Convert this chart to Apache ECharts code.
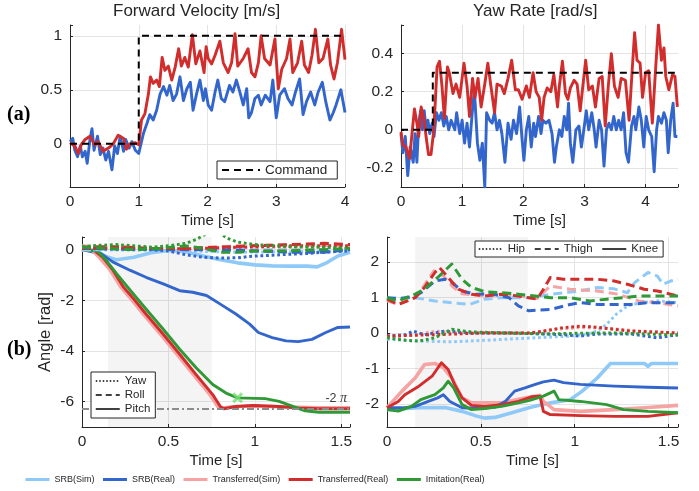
<!DOCTYPE html>
<html>
<head>
<meta charset="utf-8">
<script src="https://cdn.jsdelivr.net/npm/echarts@6/dist/echarts.min.js"></script>
<style>html,body{margin:0;padding:0;background:#fff}#c{width:699px;height:491px}</style>
</head>
<body>
<div id="c"></div>
<script>
// ---------- DATA ----------
const seriesNames = ['SRB(Sim)', 'SRB(Real)', 'Transferred(Sim)', 'Transferred(Real)', 'Imitation(Real)'];
const jointLegend = ['Hip', 'Thigh', 'Knee'];
const bodyLegend = ['Yaw', 'Roll', 'Pitch'];

// (a) Forward velocity [m/s]
const velCommand = [[0,0],[1,0],[1,1],[4,1]];
const velSRBReal = [[0,0.02],[0.04,0.05],[0.07,-0.06],[0.11,-0.12],[0.15,-0.02],[0.18,-0.12],[0.22,-0.07],[0.25,-0.18],[0.29,0.04],[0.32,0.14],[0.35,-0.06],[0.40,0.07],[0.44,-0.10],[0.48,-0.04],[0.52,-0.15],[0.56,-0.07],[0.61,-0.24],[0.65,-0.02],[0.69,-0.09],[0.73,0.07],[0.78,-0.07],[0.81,0.04],[0.86,-0.04],[0.90,0.02],[0.95,-0.06],[1.0,-0.09],[1.07,0.10],[1.12,0.19],[1.16,0.27],[1.21,0.22],[1.26,0.31],[1.31,0.46],[1.36,0.53],[1.41,0.45],[1.45,0.54],[1.50,0.40],[1.55,0.46],[1.60,0.62],[1.65,0.40],[1.70,0.51],[1.75,0.57],[1.79,0.31],[1.84,0.46],[1.89,0.59],[1.94,0.40],[1.97,0.51],[2.01,0.36],[2.06,0.31],[2.11,0.48],[2.15,0.59],[2.20,0.42],[2.25,0.39],[2.32,0.54],[2.37,0.48],[2.42,0.59],[2.47,0.48],[2.52,0.36],[2.57,0.51],[2.60,0.24],[2.64,0.29],[2.69,0.42],[2.74,0.45],[2.78,0.36],[2.84,0.45],[2.91,0.39],[2.95,0.59],[3.0,0.24],[3.05,0.45],[3.12,0.51],[3.17,0.42],[3.23,0.36],[3.28,0.48],[3.34,0.60],[3.39,0.27],[3.44,0.39],[3.50,0.48],[3.56,0.36],[3.61,0.48],[3.67,0.57],[3.72,0.39],[3.78,0.22],[3.83,0.29],[3.87,0.36],[3.94,0.50],[4.0,0.29]];
const velTransReal = [[0,0.01],[0.07,-0.02],[0.12,-0.09],[0.17,0],[0.22,0.04],[0.29,0.07],[0.36,-0.01],[0.41,0.02],[0.48,-0.07],[0.56,-0.04],[0.63,0.0],[0.70,0.08],[0.78,0.05],[0.82,-0.05],[0.87,0.0],[0.95,0.01],[1.0,-0.01],[1.04,0.22],[1.09,0.28],[1.14,0.46],[1.17,0.62],[1.21,0.56],[1.26,0.59],[1.30,0.53],[1.34,0.80],[1.38,0.68],[1.43,0.72],[1.48,0.59],[1.53,0.71],[1.58,0.88],[1.62,0.72],[1.67,0.80],[1.72,0.71],[1.78,1.01],[1.83,0.74],[1.89,0.86],[1.95,0.66],[1.98,0.90],[2.01,0.79],[2.06,0.74],[2.11,0.82],[2.18,0.95],[2.23,0.75],[2.30,0.66],[2.35,0.75],[2.40,1.02],[2.44,0.72],[2.52,0.79],[2.59,0.88],[2.64,0.66],[2.69,0.62],[2.74,0.75],[2.78,1.0],[2.83,0.79],[2.91,0.73],[2.98,0.97],[3.03,0.51],[3.08,0.69],[3.15,0.79],[3.20,0.97],[3.24,0.66],[3.31,0.75],[3.37,0.95],[3.41,0.73],[3.47,0.66],[3.52,0.82],[3.57,1.06],[3.62,0.75],[3.68,0.79],[3.75,0.97],[3.79,0.73],[3.84,0.60],[3.89,0.75],[3.95,1.06],[4.0,0.78]];

// (a) Yaw rate [rad/s]
const yawCommand = [[0,0],[0.52,0],[0.52,0.3],[4.52,0.3]];
const yawSRBReal = [[0,-0.02],[0.03,-0.12],[0.07,-0.035],[0.11,-0.24],[0.15,-0.09],[0.20,-0.17],[0.23,-0.02],[0.26,-0.17],[0.29,0.035],[0.32,0.10],[0.35,0],[0.38,0.10],[0.41,0],[0.44,0.05],[0.47,-0.02],[0.51,0.035],[0.54,-0.035],[0.58,0.09],[0.62,0.05],[0.66,0.09],[0.70,0.02],[0.74,0.07],[0.78,0],[0.82,0.05],[0.88,0],[0.91,0.09],[0.96,-0.02],[1.00,0.05],[1.04,-0.07],[1.08,0.035],[1.12,-0.09],[1.16,0.07],[1.20,0.21],[1.25,-0.07],[1.29,-0.16],[1.33,-0.07],[1.37,-0.30],[1.40,0.09],[1.45,0.05],[1.49,0.035],[1.53,0.09],[1.57,0],[1.61,0.05],[1.65,-0.02],[1.70,-0.17],[1.75,0.035],[1.80,-0.05],[1.84,0.05],[1.89,-0.02],[1.94,0.12],[1.98,-0.05],[2.01,-0.16],[2.05,0],[2.09,0.07],[2.13,-0.09],[2.17,0.035],[2.20,-0.035],[2.25,0.07],[2.29,-0.02],[2.32,0.05],[2.37,0.035],[2.42,0.05],[2.47,-0.02],[2.51,-0.17],[2.54,-0.09],[2.59,0],[2.63,-0.035],[2.67,0.07],[2.71,0],[2.74,0.14],[2.77,-0.07],[2.81,-0.17],[2.86,0],[2.91,0.02],[2.95,-0.09],[2.99,0],[3.03,0.10],[3.07,0],[3.12,0.09],[3.16,0],[3.19,-0.09],[3.24,0.05],[3.28,0],[3.32,-0.19],[3.36,0],[3.40,0.035],[3.44,0],[3.48,0.07],[3.52,0],[3.56,0.05],[3.60,0],[3.64,0.09],[3.68,-0.12],[3.72,-0.17],[3.77,0.02],[3.81,0.07],[3.84,0],[3.89,0.12],[3.93,0.05],[3.97,-0.09],[4.01,0.07],[4.05,0],[4.10,-0.035],[4.14,-0.22],[4.18,0],[4.21,0.07],[4.26,0.035],[4.30,0.09],[4.34,0.05],[4.37,-0.12],[4.41,0.05],[4.45,0.14],[4.48,-0.035],[4.52,-0.035]];
const yawTransReal = [[0,-0.01],[0.03,-0.08],[0.08,-0.09],[0.14,-0.15],[0.18,-0.02],[0.22,0.11],[0.26,0.035],[0.29,-0.035],[0.33,0.12],[0.38,0.05],[0.41,-0.035],[0.45,-0.13],[0.49,-0.13],[0.53,-0.02],[0.56,0.14],[0.59,0.33],[0.63,0.36],[0.67,0.23],[0.71,0.06],[0.76,0.33],[0.79,0.30],[0.85,0.19],[0.90,0.24],[0.96,0.17],[1.03,0.35],[1.08,0.23],[1.12,0.07],[1.17,0.27],[1.21,0.17],[1.26,0.27],[1.31,0.12],[1.37,0.24],[1.42,0.35],[1.47,0.23],[1.53,0.09],[1.57,0.24],[1.64,0.23],[1.69,0.19],[1.75,0.27],[1.81,0.365],[1.87,0.21],[1.92,0.21],[1.98,0.16],[2.05,0.23],[2.10,0.17],[2.16,0.30],[2.21,0.20],[2.26,0.17],[2.30,0.05],[2.34,0.17],[2.39,0.22],[2.45,0.2],[2.50,0.29],[2.56,0.12],[2.59,0.23],[2.64,0.36],[2.69,0.19],[2.73,0.16],[2.77,0.22],[2.83,0.26],[2.88,0.24],[2.93,0.10],[3.02,0.365],[3.07,0.21],[3.13,0.23],[3.18,0.12],[3.24,0.27],[3.29,0.28],[3.34,0.02],[3.39,0.23],[3.44,0.40],[3.49,0.23],[3.55,0.17],[3.60,0.27],[3.67,0.26],[3.73,0.05],[3.78,0.31],[3.82,0.51],[3.86,0.365],[3.91,0.35],[3.95,0.17],[4.0,0.30],[4.05,0.31],[4.11,0.035],[4.16,0.30],[4.21,0.55],[4.26,0.365],[4.30,0.43],[4.33,0.28],[4.38,0.21],[4.44,0.29],[4.48,0.28],[4.52,0.12]];

// (b) Body angles [rad]
const pitchSRBSim = [[0,0],[0.08,-0.05],[0.15,-0.3],[0.2,-0.4],[0.3,-0.3],[0.4,-0.12],[0.5,-0.03],[0.6,-0.08],[0.7,-0.25],[0.8,-0.4],[0.9,-0.52],[1.0,-0.6],[1.1,-0.64],[1.2,-0.65],[1.3,-0.65],[1.36,-0.68],[1.42,-0.5],[1.48,-0.25],[1.55,-0.1]];
const pitchSRBReal = [[0,0],[0.11,-0.16],[0.18,-0.49],[0.28,-0.82],[0.37,-1.09],[0.47,-1.35],[0.565,-1.62],[0.64,-1.68],[0.72,-1.81],[0.80,-2.15],[0.89,-2.54],[0.97,-2.94],[1.02,-3.27],[1.10,-3.47],[1.18,-3.6],[1.25,-3.63],[1.33,-3.54],[1.41,-3.27],[1.48,-3.07],[1.55,-3.05]];
const pitchTransSim = [[0,0],[0.06,-0.02],[0.1,-0.3],[0.165,-0.82],[0.225,-1.48],[0.285,-1.95],[0.355,-2.54],[0.455,-3.34],[0.55,-4.13],[0.645,-4.93],[0.74,-5.72],[0.785,-6.19],[0.805,-6.26],[0.87,-6.2],[0.99,-6.17],[1.14,-6.2],[1.25,-6.22],[1.37,-6.24],[1.55,-6.24]];
const pitchTransReal = [[0,0],[0.07,-0.03],[0.12,-0.3],[0.18,-0.82],[0.24,-1.48],[0.30,-1.95],[0.37,-2.54],[0.47,-3.34],[0.565,-4.13],[0.66,-4.93],[0.756,-5.72],[0.80,-6.19],[0.82,-6.28],[0.89,-6.19],[0.99,-6.15],[1.14,-6.19],[1.25,-6.25],[1.37,-6.28],[1.55,-6.28]];
const pitchImitReal = [[0,0],[0.09,-0.05],[0.14,-0.42],[0.2,-0.95],[0.28,-1.61],[0.37,-2.34],[0.47,-3.14],[0.565,-3.93],[0.66,-4.66],[0.756,-5.32],[0.833,-5.66],[0.90,-5.85],[0.95,-5.86],[1.06,-5.88],[1.14,-5.99],[1.22,-6.19],[1.29,-6.36],[1.37,-6.42],[1.55,-6.42]];
const yawSRBSim = [[0,0],[0.3,-0.02],[0.6,-0.05],[0.9,-0.1],[1.2,-0.08],[1.55,-0.05]];
const yawSRBRealB = [[0,0.05],[0.2,0.02],[0.4,0],[0.5,-0.05],[0.6,-0.2],[0.7,-0.3],[0.8,-0.33],[0.9,-0.32],[1.0,-0.25],[1.1,-0.22],[1.2,-0.18],[1.3,-0.15],[1.4,-0.1],[1.55,-0.05]];
const yawTransSimB = [[0,0.08],[0.3,0.05],[0.6,0.02],[0.9,0.08],[1.2,0.1],[1.55,0.08]];
const yawTransRealB = [[0,0.05],[0.3,0.08],[0.6,0.03],[0.9,0.1],[1.2,0.15],[1.55,0.15]];
const yawImitRealB = [[0,0.12],[0.1,0.17],[0.2,0.2],[0.3,0.15],[0.4,0.1],[0.5,0.15],[0.6,0.25],[0.66,0.4],[0.7,0.55],[0.75,0.75],[0.8,0.65],[0.84,0.45],[0.9,0.3],[1.0,0.2],[1.2,0.12],[1.4,0.1],[1.55,0.05]];
const rollSRBSim = [[0,0],[0.5,0.01],[1.0,0],[1.55,0]];
const rollSRBReal = [[0,0.05],[0.2,0.05],[0.4,0.02],[0.6,0.0],[0.8,0.0],[1.0,-0.05],[1.2,-0.1],[1.4,-0.1],[1.55,0]];
const rollTransSim = [[0,0.15],[0.3,0.05],[0.6,0.05],[0.9,0.15],[1.2,0.2],[1.55,0.15]];
const rollTransReal = [[0,0.1],[0.2,0.12],[0.4,0.05],[0.6,0.05],[0.8,0.1],[1.0,0.15],[1.2,0.2],[1.4,0.25],[1.55,0.2]];
const rollImitReal = [[0,0.1],[0.15,0.05],[0.3,0],[0.45,0.05],[0.6,0.15],[0.7,0.05],[0.8,-0.1],[0.9,-0.1],[1.0,-0.05],[1.2,-0.05],[1.4,0],[1.55,0.05]];
const flipX = [[0.9, -5.85]];
const twoPi = -2 * Math.PI;

// (b) Joint angles [rad]
const kneeSRBSim = [[0,-2.16],[0.17,-2.11],[0.31,-2.1],[0.4,-2.21],[0.47,-2.33],[0.52,-2.4],[0.575,-2.38],[0.665,-2.25],[0.76,-2.1],[0.87,-1.97],[0.976,-1.88],[1.04,-1.64],[1.12,-1.27],[1.19,-0.86],[1.37,-0.86],[1.39,-0.94],[1.41,-0.86],[1.55,-0.86]];
const kneeSRBReal = [[0,-2.11],[0.08,-2.11],[0.15,-2.07],[0.22,-1.93],[0.27,-1.83],[0.3,-1.74],[0.335,-1.93],[0.4,-2.11],[0.49,-2.13],[0.575,-2.09],[0.63,-1.93],[0.68,-1.64],[0.735,-1.55],[0.79,-1.45],[0.833,-1.38],[0.89,-1.33],[0.94,-1.4],[1.03,-1.45],[1.21,-1.5],[1.39,-1.53],[1.55,-1.55]];
const kneeTransSim = [[0,-2.11],[0.08,-1.64],[0.15,-1.27],[0.2,-0.89],[0.255,-0.86],[0.3,-0.98],[0.345,-1.27],[0.4,-1.83],[0.45,-1.97],[0.61,-1.97],[0.74,-1.83],[0.815,-1.76],[0.833,-1.93],[0.89,-2.16],[1.03,-2.21],[1.21,-2.16],[1.39,-2.1],[1.55,-2.04]];
const kneeTransReal = [[0,-2.11],[0.06,-1.93],[0.095,-1.74],[0.17,-1.5],[0.24,-1.22],[0.29,-0.84],[0.326,-1.03],[0.36,-1.45],[0.4,-1.83],[0.45,-2.04],[0.52,-2.07],[0.61,-2.02],[0.7,-1.93],[0.77,-1.8],[0.815,-1.78],[0.833,-2.21],[0.87,-2.3],[1.03,-2.33],[1.21,-2.35],[1.39,-2.35],[1.55,-2.25]];
const kneeImitReal = [[0,-2.16],[0.06,-2.2],[0.13,-2.07],[0.18,-1.88],[0.255,-1.74],[0.3,-1.55],[0.326,-1.36],[0.355,-1.55],[0.4,-2.02],[0.45,-2.16],[0.52,-2.13],[0.61,-2.07],[0.7,-1.97],[0.76,-1.9],[0.833,-1.78],[0.89,-1.64],[0.915,-1.88],[1.03,-1.93],[1.17,-2.02],[1.26,-2.16],[1.39,-2.21],[1.55,-2.25]];
const thighSRBSim = [[0,0.99],[0.15,0.99],[0.255,0.9],[0.345,0.85],[0.44,0.8],[0.52,0.95],[0.61,0.99],[0.76,0.99],[0.84,1.06],[0.94,1.13],[1.03,1.18],[1.12,1.28],[1.21,1.24],[1.28,1.13],[1.32,1.42],[1.39,1.7],[1.44,1.6],[1.47,1.37],[1.51,1.46],[1.55,1.51]];
const thighSRBReal = [[0,0.99],[0.06,0.95],[0.15,1.04],[0.18,1.13],[0.255,1.46],[0.31,1.51],[0.345,1.42],[0.4,1.18],[0.47,1.09],[0.56,1.1],[0.65,0.99],[0.7,0.76],[0.755,0.62],[0.8,0.64],[0.87,0.66],[0.976,0.8],[1.03,0.85],[1.12,0.8],[1.3,0.8],[1.39,0.85],[1.55,0.85]];
const thighTransSim = [[0,0.9],[0.06,0.8],[0.15,0.99],[0.2,1.35],[0.25,1.75],[0.3,1.6],[0.35,1.3],[0.4,1.1],[0.5,1.05],[0.6,1.08],[0.7,1.04],[0.8,0.97],[0.87,1.32],[0.976,1.23],[1.12,1.18],[1.23,1.09],[1.34,0.9],[1.44,0.85],[1.55,0.76]];
const thighTransReal = [[0,0.95],[0.06,0.8],[0.15,0.99],[0.2,1.28],[0.255,1.7],[0.28,1.84],[0.326,1.56],[0.38,1.23],[0.45,1.09],[0.52,1.04],[0.61,1.09],[0.7,1.04],[0.755,0.99],[0.8,0.95],[0.83,1.2],[0.87,1.56],[0.94,1.51],[1.03,1.51],[1.12,1.51],[1.21,1.46],[1.28,1.37],[1.37,1.23],[1.44,1.18],[1.55,1.04]];
const thighImitReal = [[0,0.99],[0.06,0.9],[0.15,1.09],[0.2,1.23],[0.27,1.56],[0.345,1.94],[0.4,1.51],[0.45,1.28],[0.52,1.16],[0.61,1.13],[0.7,1.09],[0.79,1.04],[0.87,0.99],[0.976,0.99],[1.08,0.9],[1.17,0.95],[1.26,0.99],[1.35,1.04],[1.44,1.04],[1.55,1.04]];
const hipSRBSim = [[0,-0.18],[0.17,-0.23],[0.345,-0.25],[0.52,-0.21],[0.7,-0.16],[0.79,-0.14],[0.976,-0.09],[1.06,-0.04],[1.12,0.05],[1.17,0.24],[1.22,0.52],[1.28,0.76],[1.35,0.85],[1.44,0.9],[1.55,0.85]];
const hipSRBReal = [[0,-0.09],[0.1,-0.05],[0.14,0.05],[0.2,-0.05],[0.31,0.05],[0.45,0],[0.61,0],[0.79,-0.02],[0.94,-0.05],[1.03,-0.09],[1.12,-0.03],[1.3,-0.03],[1.44,-0.14],[1.55,-0.05]];
const hipTransSim = [[0,-0.12],[0.15,-0.05],[0.26,0.05],[0.4,0],[0.6,0],[0.8,0.0],[0.9,0.1],[1.03,0.15],[1.2,0.12],[1.35,0.05],[1.55,-0.02]];
const hipTransReal = [[0,-0.09],[0.26,-0.05],[0.52,0],[0.76,0],[0.833,0.05],[0.94,0.15],[1.03,0.19],[1.12,0.16],[1.21,0.1],[1.3,0.05],[1.55,0]];
const hipImitReal = [[0,-0.14],[0.1,-0.21],[0.17,-0.23],[0.255,-0.14],[0.345,0.1],[0.44,0.03],[0.61,0],[0.84,-0.03],[1.03,-0.01],[1.21,0],[1.55,-0.06]];
const shadeRange = [0.15, 0.75];

// ---------- STYLE ----------
const COL = {'SRB(Sim)':'#8fc9f7','SRB(Real)':'#3366cc','Transferred(Sim)':'#f5a3a3','Transferred(Real)':'#d12d2d','Imitation(Real)':'#2f9a35'};
const SIMW = 3.6, REALW = 2.9;
const DASH = [9, 5], DOT = [2.8, 2.8];
const FONT = 'Liberation Sans, Arial, Helvetica, sans-serif';
const TXT = '#262626';

function ln(name, data, g, width, dash, extra) {
  const color = COL[name] || '#000';
  return Object.assign({
    type: 'line', name: name, data: data, xAxisIndex: g, yAxisIndex: g,
    symbol: 'none', showSymbol: false, animation: false, clip: true,
    lineStyle: {color: color, width: width, type: dash || 'solid', cap: 'butt', join: 'round'},
    itemStyle: {color: color}, emphasis: {disabled: true}
  }, extra || {});
}
const fmt = step => v => (Math.abs(v / step - Math.round(v / step)) < 1e-6 ? String(+v.toFixed(2)) : '');

function xAx(g, max, step, showMax) {
  return {
    type: 'value', gridIndex: g, min: 0, max: max, interval: step,
    name: 'Time [s]', nameLocation: 'middle', nameGap: 26,
    nameTextStyle: {fontSize: 15, color: TXT, fontFamily: FONT},
    axisLine: {onZero: false, lineStyle: {color: TXT, width: 1}},
    axisTick: {inside: true, length: 3, lineStyle: {color: TXT}},
    axisLabel: {fontSize: 15.5, color: TXT, fontFamily: FONT, margin: 7, formatter: fmt(step)},
    splitLine: {show: true, lineStyle: {color: '#e4e4e4', width: 1}, showMinLine: false, showMaxLine: showMax}
  };
}
function yAx(g, min, max, step, split, name) {
  return {
    type: 'value', gridIndex: g, min: min, max: max, splitNumber: split,
    name: name || '', nameLocation: 'middle', nameGap: 28,
    nameTextStyle: {fontSize: 16.5, color: TXT, fontFamily: FONT},
    axisLine: {show: true, onZero: false, lineStyle: {color: TXT, width: 1}},
    axisTick: {show: true, inside: true, length: 3, lineStyle: {color: TXT}},
    axisLabel: {fontSize: 15.5, color: TXT, fontFamily: FONT, margin: 8, formatter: fmt(step)},
    splitLine: {show: true, lineStyle: {color: '#e4e4e4', width: 1}, showMinLine: false, showMaxLine: false}
  };
}
const shade = {silent: true, itemStyle: {color: 'rgba(0,0,0,0.045)'}, data: [[{xAxis: shadeRange[0]}, {xAxis: shadeRange[1]}]]};

const series = [
  // (a) forward velocity
  ln('SRB(Real)', velSRBReal, 0, REALW),
  ln('Transferred(Real)', velTransReal, 0, REALW),
  ln('Command', velCommand, 0, 2, [7, 5], {z: 3}),
  // (a) yaw rate
  ln('SRB(Real)', yawSRBReal, 1, REALW),
  ln('Transferred(Real)', yawTransReal, 1, REALW),
  ln('Command', yawCommand, 1, 2, [7, 5], {z: 3}),
  // (b) body pitch (solid)
  ln('SRB(Sim)', pitchSRBSim, 2, SIMW, 'solid', {markArea: shade, markLine: {
      silent: true, symbol: 'none', animation: false,
      lineStyle: {color: '#8c8c8c', width: 2, type: [7, 3, 2, 3]},
      label: {position: 'insideEndTop', distance: 3, formatter: '-2 {p|π}', color: '#3a3a3a', fontSize: 12.5, fontFamily: FONT,
              rich: {p: {fontFamily: 'Liberation Serif, serif', fontStyle: 'italic', fontSize: 14, color: '#3a3a3a'}}},
      data: [{yAxis: twoPi}]}}),
  ln('SRB(Real)', pitchSRBReal, 2, REALW),
  ln('Transferred(Sim)', pitchTransSim, 2, SIMW),
  ln('Transferred(Real)', pitchTransReal, 2, REALW),
  ln('Imitation(Real)', pitchImitReal, 2, REALW),
  // (b) body roll (dashed) and yaw (dotted)
  ln('SRB(Sim)', rollSRBSim, 2, 3, DASH),
  ln('SRB(Sim)', yawSRBSim, 2, 3, DOT),
  ln('Transferred(Sim)', rollTransSim, 2, 3, DASH),
  ln('Transferred(Sim)', yawTransSimB, 2, 3, DOT),
  ln('SRB(Real)', yawSRBRealB, 2, 3, DOT),
  ln('SRB(Real)', rollSRBReal, 2, 3, DASH),
  ln('Transferred(Real)', yawTransRealB, 2, 3, DOT),
  ln('Transferred(Real)', rollTransReal, 2, 3, DASH),
  ln('Imitation(Real)', rollImitReal, 2, 3, DASH),
  ln('Imitation(Real)', yawImitRealB, 2, 3, DOT),
  {type: 'scatter', name: 'flip', xAxisIndex: 2, yAxisIndex: 2, data: flipX, animation: false, silent: true, z: 5,
   symbol: 'path://M2,0L5,3L8,0L10,2L7,5L10,8L8,10L5,7L2,10L0,8L3,5L0,2Z', symbolSize: 11, itemStyle: {color: '#74e074'}},
  // legend-only dummies
  ln('Yaw', [], 2, 1.5, [1.5, 2]),
  ln('Roll', [], 2, 1.5, [6, 4]),
  ln('Pitch', [], 2, 1.5),
  ln('Hip', [], 3, 1.5, [1.5, 2]),
  ln('Thigh', [], 3, 1.5, [6, 4]),
  ln('Knee', [], 3, 1.5),
  // (b) joints: sim first (underneath)
  ln('SRB(Sim)', kneeSRBSim, 3, SIMW, 'solid', {markArea: shade}),
  ln('SRB(Sim)', thighSRBSim, 3, 3, DASH),
  ln('SRB(Sim)', hipSRBSim, 3, 3, DOT),
  ln('Transferred(Sim)', kneeTransSim, 3, SIMW),
  ln('Transferred(Sim)', thighTransSim, 3, 3, DASH),
  ln('Transferred(Sim)', hipTransSim, 3, 3, DOT),
  ln('SRB(Real)', kneeSRBReal, 3, REALW),
  ln('SRB(Real)', thighSRBReal, 3, 3, DASH),
  ln('SRB(Real)', hipSRBReal, 3, 3, DOT),
  ln('Transferred(Real)', kneeTransReal, 3, REALW),
  ln('Transferred(Real)', thighTransReal, 3, 3, DASH),
  ln('Transferred(Real)', hipTransReal, 3, 3, DOT),
  ln('Imitation(Real)', kneeImitReal, 3, REALW),
  ln('Imitation(Real)', thighImitReal, 3, 3, DASH),
  ln('Imitation(Real)', hipImitReal, 3, 3, DOT)
];

const noSym = {opacity: 0, borderWidth: 0};
const boxLegend = {
  z: 20, backgroundColor: '#fff', borderColor: '#262626', borderWidth: 1, borderRadius: 0,
  selectedMode: false, inactiveColor: '#000', itemStyle: noSym,
  textStyle: {color: TXT, fontFamily: FONT}, lineStyle: {width: 1.5}
};

const option = {
  animation: false,
  backgroundColor: '#fff',
  textStyle: {fontFamily: FONT},
  grid: [
    {left: 70, top: 25, width: 275, height: 162},
    {left: 401, top: 25, width: 277, height: 162},
    {left: 82, top: 237, width: 268, height: 190},
    {left: 387, top: 237, width: 291, height: 190}
  ],
  xAxis: [xAx(0, 4, 1, true), xAx(1, 4.53, 1, false), xAx(2, 1.55, 0.5, false), xAx(3, 1.55, 0.5, false)],
  yAxis: [yAx(0, -0.4, 1.1, 0.5, 3), yAx(1, -0.3, 0.55, 0.2, 4), yAx(2, -7, 0.5, 2, 4, 'Angle [rad]'), yAx(3, -2.65, 2.7, 1, 5)],
  legend: [
    Object.assign({}, boxLegend, {data: ['Command'], left: 217, top: 161, padding: [2, 10, 2, 4], itemWidth: 38, itemHeight: 12,
      lineStyle: {width: 2}, textStyle: {color: TXT, fontFamily: FONT, fontSize: 13.5}}),
    Object.assign({}, boxLegend, {data: bodyLegend, left: 91, top: 372, orient: 'vertical', padding: [3, 5, 3, 4], itemGap: 2,
      itemWidth: 24, itemHeight: 12, itemTextGap: 3, textStyle: {color: TXT, fontFamily: FONT, fontSize: 11.5}}),
    Object.assign({}, boxLegend, {data: jointLegend, left: 475, top: 241, padding: [2, 5, 2, 3], itemGap: 9,
      itemWidth: 24, itemHeight: 12, itemTextGap: 3, textStyle: {color: TXT, fontFamily: FONT, fontSize: 11.5}}),
    {data: seriesNames, left: 19, top: 470, selectedMode: false, itemWidth: 24, itemHeight: 10, itemGap: 7, itemTextGap: 2,
     itemStyle: noSym, textStyle: {color: TXT, fontFamily: FONT, fontSize: 9}, lineStyle: {width: 3}}
  ],
  graphic: [
    {type: 'text', left: 113, top: 3, style: {text: 'Forward Velocity [m/s]', fontSize: 17, fontFamily: FONT, fill: TXT}},
    {type: 'text', left: 473, top: 3, style: {text: 'Yaw Rate [rad/s]', fontSize: 17, fontFamily: FONT, fill: TXT}},
    {type: 'text', left: 7, top: 105, style: {text: '(a)', fontSize: 20, fontWeight: 'bold', fontFamily: 'Liberation Serif, Times New Roman, serif', fill: '#000'}},
    {type: 'text', left: 7, top: 340, style: {text: '(b)', fontSize: 20, fontWeight: 'bold', fontFamily: 'Liberation Serif, Times New Roman, serif', fill: '#000'}}
  ],
  series: series
};
echarts.init(document.getElementById('c'), null, {renderer: 'canvas'}).setOption(option);
</script>
</body>
</html>
